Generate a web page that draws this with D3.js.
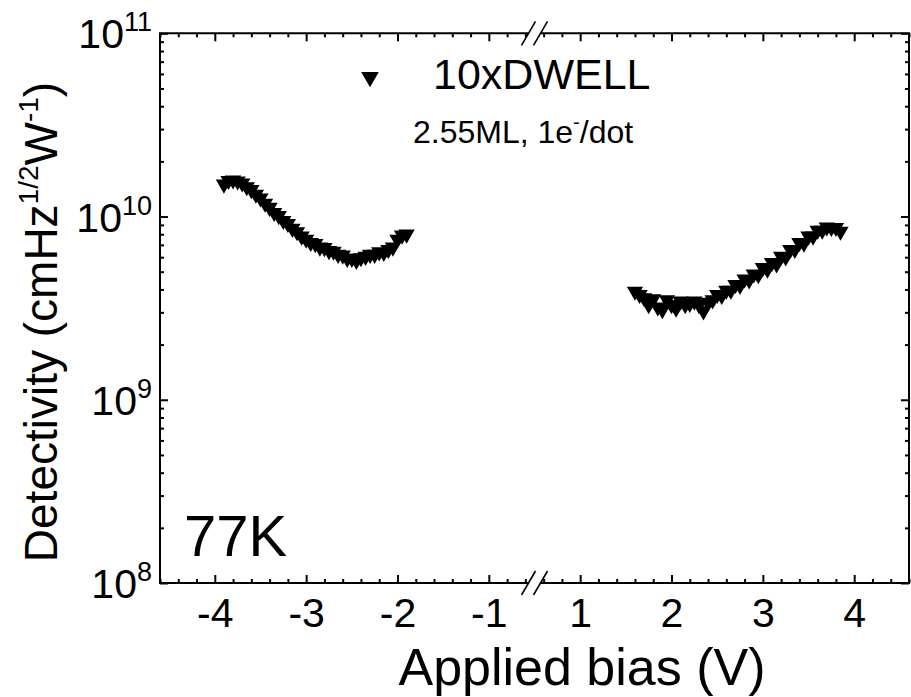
<!DOCTYPE html>
<html lang="en">
<head>
<meta charset="UTF-8">
<title>Detectivity vs bias</title>
<style>
html, body { margin: 0; padding: 0; background: #fff; }
svg { display: block; font-family: 'Liberation Sans', Arial, sans-serif; }
.tick line { stroke: #000; stroke-width: 2; }
</style>
</head>
<body>
<svg width="911" height="697"></svg>
<script src="https://cdnjs.cloudflare.com/ajax/libs/d3/7.8.5/d3.min.js"></script>
<script>
// negative bias branch
const leftBias = [-3.90, -3.85, -3.80, -3.75, -3.70, -3.65, -3.60, -3.55, -3.50, -3.45,
  -3.40, -3.35, -3.30, -3.25, -3.20, -3.15, -3.10, -3.05, -3.00, -2.95,
  -2.90, -2.85, -2.80, -2.75, -2.70, -2.65, -2.60, -2.55, -2.50, -2.45,
  -2.40, -2.35, -2.30, -2.25, -2.20, -2.15, -2.10, -2.05, -2.00, -1.95, -1.90];
const leftDet = [1.50e10, 1.57e10, 1.58e10, 1.56e10, 1.52e10, 1.45e10, 1.40e10, 1.32e10, 1.26e10, 1.18e10,
  1.12e10, 1.05e10, 1.01e10, 9.5e9, 9.15e9, 8.6e9, 8.25e9, 7.8e9, 7.5e9, 7.2e9,
  7.1e9, 6.8e9, 6.75e9, 6.5e9, 6.45e9, 6.2e9, 6.15e9, 5.9e9, 5.9e9, 5.75e9,
  5.95e9, 6.05e9, 6.2e9, 6.2e9, 6.4e9, 6.35e9, 6.6e9, 6.8e9, 7.5e9, 7.9e9, 8.0e9];

// positive bias branch
const rightBias = [1.60, 1.65, 1.70, 1.75, 1.80, 1.85, 1.90, 1.95, 2.00, 2.05,
  2.10, 2.15, 2.20, 2.25, 2.30, 2.35, 2.40, 2.45, 2.50, 2.55,
  2.60, 2.65, 2.70, 2.75, 2.80, 2.85, 2.90, 2.95, 3.00, 3.05,
  3.10, 3.15, 3.20, 3.25, 3.30, 3.35, 3.40, 3.45, 3.50, 3.55,
  3.60, 3.65, 3.70, 3.75, 3.80, 3.85];
const rightDet = [3.9e9, 3.75e9, 3.6e9, 3.3e9, 3.55e9, 3.2e9, 3.1e9, 3.5e9, 3.3e9, 3.15e9,
  3.45e9, 3.3e9, 3.35e9, 3.45e9, 3.3e9, 3.05e9, 3.4e9, 3.5e9, 3.75e9, 3.7e9,
  3.95e9, 3.95e9, 4.25e9, 4.2e9, 4.55e9, 4.5e9, 4.85e9, 4.8e9, 5.25e9, 5.15e9,
  5.6e9, 5.5e9, 6.05e9, 6.0e9, 6.6e9, 6.6e9, 7.2e9, 7.15e9, 7.8e9, 7.8e9,
  8.4e9, 8.4e9, 8.75e9, 8.7e9, 8.7e9, 8.3e9];

const leftTicks = [-4, -3, -2, -1];
const rightTicks = [1, 2, 3, 4];
const yTicks = [1e8, 1e9, 1e10, 1e11];
const yExp = ['8', '9', '10', '11'];

const svg = d3.select('svg');
const pLeft = 160, pRight = 909, pTop = 33.3, pBottom = 583;
const breakX = (pLeft + pRight) / 2;

const xL = d3.scaleLinear().domain([-4.6, -0.5]).range([pLeft, breakX]);
const xR = d3.scaleLinear().domain([0.5, 4.6]).range([breakX, pRight]);
const y = d3.scaleLog().domain([1e8, 1e11]).range([pBottom, pTop]);

const minorL = d3.range(-46, -4, 2).map(d => d / 10).filter(d => !leftTicks.includes(d));
const minorR = d3.range(6, 47, 2).map(d => d / 10).filter(d => !rightTicks.includes(d));
const minorY = [];
[1e8, 1e9, 1e10].forEach(b => { for (let k = 2; k <= 9; k++) minorY.push(b * k); });

function addAxis(axis, tx, ty) {
  const g = svg.append('g').attr('transform', `translate(${tx},${ty})`).call(axis);
  g.select('.domain').remove();
  return g;
}

// x ticks, inward, on bottom and top
[[xL, leftTicks, minorL], [xR, rightTicks, minorR]].forEach(([sc, maj, mn]) => {
  const gb = addAxis(d3.axisBottom(sc).tickValues(maj).tickSize(-8).tickPadding(14)
    .tickFormat(d => d), 0, pBottom);
  gb.selectAll('text').attr('font-size', 41).attr('fill', '#000')
    .attr('dy', '0.71em').attr('y', 15)
    .attr('font-family', "'Liberation Sans', Arial, sans-serif");
  addAxis(d3.axisBottom(sc).tickValues(mn).tickSize(-4).tickFormat(''), 0, pBottom);
  addAxis(d3.axisTop(sc).tickValues(maj).tickSize(-8).tickFormat(''), 0, pTop);
  addAxis(d3.axisTop(sc).tickValues(mn).tickSize(-4).tickFormat(''), 0, pTop);
});

// y ticks, inward, on left and right
addAxis(d3.axisLeft(y).tickValues(yTicks).tickSize(-8).tickFormat(''), pLeft, 0);
addAxis(d3.axisLeft(y).tickValues(minorY).tickSize(-4).tickFormat(''), pLeft, 0);
addAxis(d3.axisRight(y).tickValues(yTicks).tickSize(-8).tickFormat(''), pRight, 0);
addAxis(d3.axisRight(y).tickValues(minorY).tickSize(-4).tickFormat(''), pRight, 0);

// y tick labels 10^n
yTicks.forEach((v, i) => {
  const t = svg.append('text').attr('x', 152).attr('y', y(v) + 15)
    .attr('text-anchor', 'end').attr('font-size', 41);
  t.append('tspan').text('10');
  t.append('tspan').attr('font-size', 27).attr('dy', -17).text(yExp[i]);
});

// frame with break gap
const gap = 6;
const frame = svg.append('g').attr('stroke', '#000').attr('stroke-width', 2).attr('fill', 'none');
frame.append('line').attr('x1', pLeft).attr('x2', pLeft).attr('y1', pTop).attr('y2', pBottom);
frame.append('line').attr('x1', pRight).attr('x2', pRight).attr('y1', pTop).attr('y2', pBottom);
[pTop, pBottom].forEach(yy => {
  frame.append('line').attr('x1', pLeft - 1).attr('x2', breakX - gap).attr('y1', yy).attr('y2', yy);
  frame.append('line').attr('x1', breakX + gap).attr('x2', pRight + 1).attr('y1', yy).attr('y2', yy);
  [-gap, gap].forEach(o => {
    frame.append('line')
      .attr('x1', breakX + o - 7).attr('y1', yy + 12)
      .attr('x2', breakX + o + 7).attr('y2', yy - 12)
      .attr('stroke-width', 1.6);
  });
});

// markers
const tri = d3.symbol(d3.symbolTriangle, 115);
const pts = leftBias.map((b, i) => [xL(b), y(leftDet[i])])
  .concat(rightBias.map((b, i) => [xR(b), y(rightDet[i])]));
svg.append('g').selectAll('path').data(pts).enter().append('path')
  .attr('d', tri)
  .attr('transform', d => `translate(${d[0]},${d[1]}) rotate(180)`)
  .attr('fill', '#000');

// legend
svg.append('path').attr('d', d3.symbol(d3.symbolTriangle, 135)).attr('fill', '#000')
  .attr('transform', 'translate(370,77) rotate(180)');
svg.append('text').attr('x', 433).attr('y', 89).attr('font-size', 43).text('10xDWELL');
const sub = svg.append('text').attr('x', 413).attr('y', 143).attr('font-size', 32);
sub.append('tspan').text('2.55ML, 1e');
sub.append('tspan').attr('font-size', 20).attr('dy', -14).text('-');
sub.append('tspan').attr('dy', 14).text('/dot');

svg.append('text').attr('x', 184).attr('y', 556).attr('font-size', 58).text('77K');

// axis titles
svg.append('text').attr('x', 582).attr('y', 685)
  .attr('text-anchor', 'middle').attr('font-size', 52).text('Applied bias (V)');

const yt = svg.append('text').attr('transform', 'translate(57,322) rotate(-90)')
  .attr('text-anchor', 'middle').attr('font-size', 46);
yt.append('tspan').text('Detectivity (cmHz');
yt.append('tspan').attr('font-size', 28).attr('dy', -19).text('1/2');
yt.append('tspan').attr('dy', 19).text('W');
yt.append('tspan').attr('font-size', 28).attr('dy', -19).text('-1');
yt.append('tspan').attr('dy', 19).text(')');
</script>
</body>
</html>
